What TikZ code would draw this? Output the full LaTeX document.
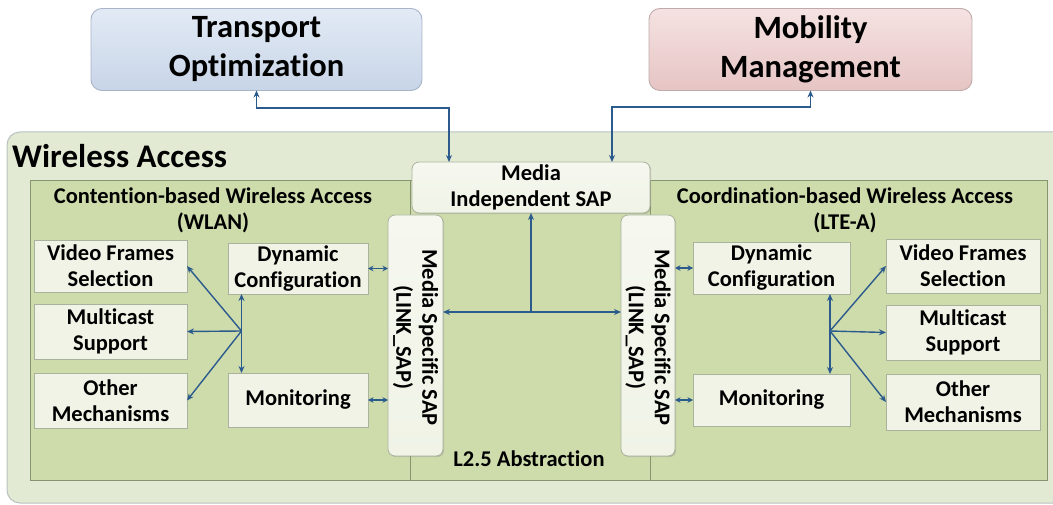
\documentclass[tikz,border=0pt]{standalone}
\usepackage{fontspec}
\setmainfont{Carlito}[Ligatures={NoCommon,NoRequired,NoContextual}]
\usetikzlibrary{arrows.meta,shadows}
\definecolor{outerfill}{HTML}{E3EAD3}
\definecolor{outerdraw}{HTML}{B8C2C0}
\definecolor{panelfill}{HTML}{CEDCAC}
\definecolor{paneldraw}{HTML}{86956F}
\definecolor{boxfill}{HTML}{F0F3E6}
\definecolor{boxdraw}{HTML}{A9B29C}
\definecolor{arrowblue}{HTML}{2B5A8C}
\definecolor{trtop}{HTML}{E2EAF5}
\definecolor{trbot}{HTML}{C8D5E8}
\definecolor{trdraw}{HTML}{A8B4C8}
\definecolor{mmtop}{HTML}{F5E2E2}
\definecolor{mmbot}{HTML}{E6C4C4}
\definecolor{mmdraw}{HTML}{C0AAAA}
\tikzset{
  topbox/.style={rounded corners=11pt, line width=0.9pt, inner sep=0pt, outer sep=0pt,
    align=center, font=\bfseries\fontsize{32.5}{39}\selectfont},
  panel/.style={fill=panelfill, draw=paneldraw, line width=1pt,
    drop shadow={shadow xshift=1.2pt, shadow yshift=-1.2pt, opacity=0.35}},
  mbox/.style={fill=boxfill, draw=boxdraw, line width=0.8pt, inner sep=0pt, outer sep=0pt,
    align=center, font=\bfseries\fontsize{22.5}{26}\selectfont,
    drop shadow={shadow xshift=1.2pt, shadow yshift=-1.2pt, opacity=0.3}},
  sapbox/.style={top color=boxfill!60!white, bottom color=boxfill, draw=boxdraw, line width=0.8pt,
    rounded corners=7pt, inner sep=0pt, outer sep=0pt,
    drop shadow={shadow xshift=1.2pt, shadow yshift=-1.2pt, opacity=0.3}},
  txt/.style={align=center, font=\bfseries\fontsize{22.5}{26}\selectfont, inner sep=0pt},
  arr/.style={draw=arrowblue, line width=1.4pt, arrows={-Stealth[length=7pt,width=6pt]}},
  darr/.style={draw=arrowblue, line width=1.4pt, arrows={Stealth[length=7pt,width=6pt]-Stealth[length=7pt,width=6pt]}},
  sarr/.style={draw=arrowblue, line width=1.2pt, arrows={Stealth[length=5.5pt,width=5.5pt]-Stealth[length=5.5pt,width=5.5pt]}},
}
\begin{document}
\begin{tikzpicture}[x=1pt,y=-1pt]
\useasboundingbox (0,0) rectangle (1053,505);
\fill[white] (0,0) rectangle (1053,505);

% top boxes
\node[topbox, top color=trtop, bottom color=trbot, draw=trdraw, minimum width=331pt, minimum height=82pt] (tr) at (256.5,49.5) {Transport\\Optimization};
\node[topbox, top color=mmtop, bottom color=mmbot, draw=mmdraw, minimum width=323pt, minimum height=82pt] (mm) at (810.5,49.5) {Mobility\\Management};

% outer wireless access area
\path[fill=outerfill, draw=outerdraw, line width=1pt, rounded corners=13pt] (7,132) rectangle (1075,503);
\node[anchor=base west, inner sep=0pt, font=\bfseries\fontsize{33}{38}\selectfont] (wa) at (12,168) {Wireless Access};

% panels
\path[panel] (30,181) rectangle (410,480);
\path[panel] (410,181) rectangle (650,480);
\path[panel] (650,181) rectangle (1047,480);

\node[txt] (ltitle) at (213,210) {Contention-based Wireless Access\\(WLAN)};
\node[txt] (rtitle) at (845,210) {Coordination-based Wireless Access\\(LTE-A)};
\node[txt] (l25) at (529,459) {L2.5 Abstraction};

% SAPs
\node[sapbox, minimum width=238pt, minimum height=51pt] (misap) at (531,187.5) {};
\node[txt] (mitext) at (misap.center) {Media\\Independent SAP};
\node[sapbox, minimum width=55pt, minimum height=241pt] (lsap) at (415.5,335.5) {};
\node[txt, rotate=-90] (lsaptext) at ([yshift=-2pt]lsap.center) {Media Specific SAP\\(LINK\_SAP)};
\node[sapbox, minimum width=54pt, minimum height=241pt] (rsap) at (648,335.5) {};
\node[txt, rotate=-90] (rsaptext) at ([yshift=-2pt]rsap.center) {Media Specific SAP\\(LINK\_SAP)};

% left boxes
\node[mbox, minimum width=153pt, minimum height=52pt] (lvid) at (110.5,266) {Video Frames\\Selection};
\node[mbox, minimum width=153pt, minimum height=55pt] (lmc) at (110.5,331.5) {Multicast\\Support};
\node[mbox, minimum width=153pt, minimum height=55pt] (loth) at (110.5,400.5) {Other\\Mechanisms};
\node[mbox, minimum width=140pt, minimum height=51pt] (ldyn) at (298,268.5) {Dynamic\\Configuration};
\node[mbox, minimum width=140pt, minimum height=54pt] (lmon) at (298,400) {Monitoring};

% right boxes
\node[mbox, minimum width=157pt, minimum height=52pt] (rdyn) at (771.5,268) {Dynamic\\Configuration};
\node[mbox, minimum width=157pt, minimum height=52pt] (rmon) at (771.5,400) {Monitoring};
\node[mbox, minimum width=154pt, minimum height=54pt] (rvid) at (963,266) {Video Frames\\Selection};
\node[mbox, minimum width=154pt, minimum height=55pt] (rmc) at (963,332.5) {Multicast\\Support};
\node[mbox, minimum width=154pt, minimum height=56pt] (roth) at (963,402) {Other\\Mechanisms};

% divider lines under SAPs
\draw[paneldraw, line width=0.8pt] (lsap.south -| 410,0) -- (410,480);
\draw[paneldraw, line width=0.8pt] (rsap.south -| 650,0) -- (650,480);

% top connectors
\coordinate (tj) at (449,108);
\coordinate (mj) at (612,107);
\draw[darr] (tr.south) |- (tj) -- (tj |- misap.north);
\draw[darr] (mm.south) |- (mj) -- (mj |- misap.north);

% middle connectors
\coordinate (cj) at (531,312);
\draw[arr] (cj) -- (misap.south);
\draw[darr] (lsap.east |- cj) -- (rsap.west |- cj);

% left hub
\coordinate (lh) at (241.5,331);
\draw[darr] (lh |- ldyn.south) -- (lh |- lmon.north);
\draw[arr] (lh) -- (lvid.east);
\draw[arr] (lh) -- (lmc.east);
\draw[arr] (lh) -- (loth.east);
\draw[sarr] (ldyn.east) -- (lsap.west |- ldyn.east);
\draw[sarr] (lmon.east) -- (lsap.west |- lmon.east);

% right hub
\coordinate (rh) at (830,331);
\draw[darr] (rh |- rdyn.south) -- (rh |- rmon.north);
\draw[arr] (rh) -- (rvid.west);
\draw[arr] (rh) -- (rmc.west);
\draw[arr] (rh) -- (roth.west);
\draw[sarr] (rsap.east |- rdyn.west) -- (rdyn.west);
\draw[sarr] (rsap.east |- rmon.west) -- (rmon.west);
\end{tikzpicture}
\end{document}
